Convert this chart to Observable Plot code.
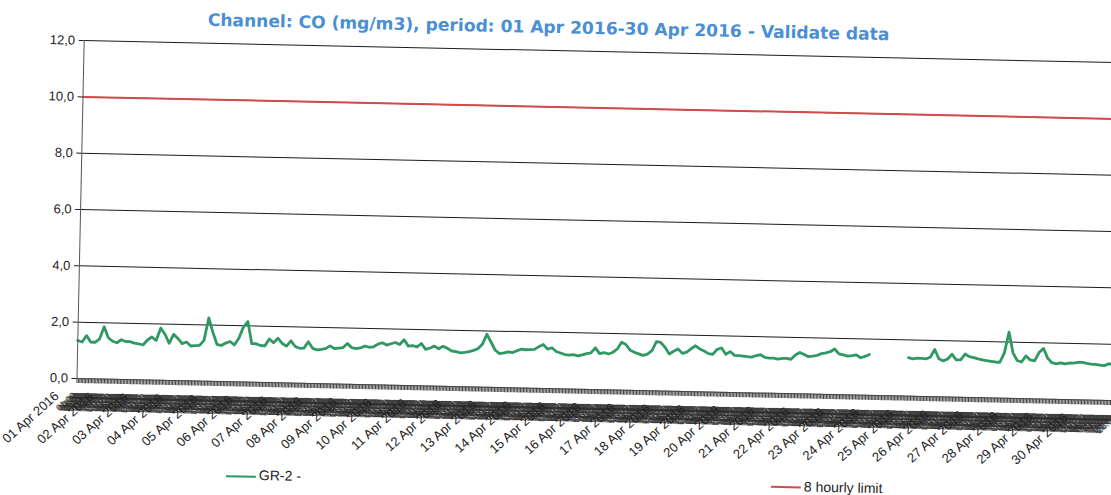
<!DOCTYPE html>
<html>
<head>
<meta charset="utf-8">
<script src="https://cdn.jsdelivr.net/npm/d3@7"></script>
<script src="https://cdn.jsdelivr.net/npm/@observablehq/plot@0.6"></script>
<style>
html, body { margin: 0; padding: 0; background: #fff; width: 1111px; height: 495px; overflow: hidden; }
#wrap { position: absolute; left: 0; top: 0; width: 1136px; height: 495px; transform-origin: 76.5px 378px; transform: rotate(1.22deg); }
#chart { position: absolute; left: 0; top: 0; }
#title { position: absolute; left: 0; width: 1082px; text-align: center; font-family: "DejaVu Sans", Verdana, sans-serif; font-weight: bold; color: #4a8fd3; white-space: nowrap; line-height: 1; }
.leg { position: absolute; font-family: "Liberation Sans", Arial, sans-serif; font-size: 14px; color: #222; line-height: 1; white-space: nowrap; }
.sw { position: absolute; height: 2px; width: 30px; }
</style>
</head>
<body>
<div id="wrap">
  <div id="chart"></div>
  <div id="title"><span id="titleText">Channel: CO (mg/m3), period: 01 Apr 2016-30 Apr 2016 - Validate data</span></div>
  <div class="sw" style="left:228px; top:472px; background:#2f9863;"></div>
  <div class="leg" id="leg1" style="left:261px;">GR-2 -</div>
  <div class="sw" style="left:773px; top:471px; background:#d24b4b;"></div>
  <div class="leg" id="leg2" style="left:806px;">8 hourly limit</div>
</div>
<script>
// ---- data ----
const dayLabels = ["01 Apr 2016","02 Apr 2016","03 Apr 2016","04 Apr 2016","05 Apr 2016","06 Apr 2016",
  "07 Apr 2016","08 Apr 2016","09 Apr 2016","10 Apr 2016","11 Apr 2016","12 Apr 2016","13 Apr 2016",
  "14 Apr 2016","15 Apr 2016","16 Apr 2016","17 Apr 2016","18 Apr 2016","19 Apr 2016","20 Apr 2016",
  "21 Apr 2016","22 Apr 2016","23 Apr 2016","24 Apr 2016","25 Apr 2016","26 Apr 2016","27 Apr 2016",
  "28 Apr 2016","29 Apr 2016","30 Apr 2016"];
const hourLabels = ["00:00","01:00","02:00","03:00","04:00","05:00","06:00","07:00","08:00","09:00","10:00","11:00",
  "12:00","13:00","14:00","15:00","16:00","17:00","18:00","19:00","20:00","21:00","22:00","23:00"];
const sampleHours = [0, 3, 6, 9, 12, 15, 18, 21];
// CO (mg/m3), GR-2, one row per day, values at sampleHours
const coGR2 = [
  [1.35,1.30,1.53,1.30,1.30,1.42,1.86,1.47],
  [1.35,1.30,1.41,1.35,1.35,1.30,1.28,1.24],
  [1.42,1.53,1.41,1.85,1.64,1.32,1.64,1.50],
  [1.32,1.38,1.24,1.26,1.27,1.45,2.25,1.75],
  [1.32,1.28,1.37,1.43,1.31,1.55,1.95,2.15],
  [1.37,1.37,1.31,1.30,1.55,1.42,1.58,1.40],
  [1.31,1.50,1.30,1.24,1.25,1.48,1.25,1.20],
  [1.22,1.25,1.35,1.26,1.28,1.30,1.45,1.30],
  [1.27,1.30,1.37,1.33,1.35,1.45,1.50,1.42],
  [1.47,1.52,1.45,1.62,1.40,1.42,1.38,1.50],
  [1.30,1.35,1.42,1.33,1.42,1.35,1.26,1.24],
  [1.20,1.22,1.25,1.30,1.36,1.52,1.88,1.60],
  [1.32,1.20,1.23,1.27,1.25,1.32,1.38,1.36],
  [1.37,1.38,1.48,1.56,1.40,1.45,1.32,1.27],
  [1.22,1.20,1.22,1.18,1.22,1.27,1.30,1.48],
  [1.28,1.32,1.27,1.33,1.45,1.70,1.62,1.42],
  [1.35,1.30,1.25,1.30,1.42,1.75,1.72,1.55],
  [1.32,1.42,1.50,1.35,1.40,1.52,1.63,1.52],
  [1.45,1.36,1.34,1.52,1.57,1.35,1.45,1.32],
  [1.31,1.30,1.28,1.27,1.33,1.36,1.27,1.25],
  [1.25,1.22,1.25,1.25,1.22,1.38,1.47,1.40],
  [1.33,1.35,1.38,1.45,1.48,1.52,1.62,1.45],
  [1.42,1.38,1.40,1.43,1.33,1.38,1.45,null],
  [null,null,null,null,null,null,null,1.37],
  [1.33,1.36,1.35,1.34,1.40,1.68,1.35,1.28],
  [1.35,1.52,1.33,1.33,1.54,1.45,1.42,1.38],
  [1.35,1.32,1.30,1.28,1.27,1.60,2.35,1.62],
  [1.35,1.30,1.52,1.38,1.35,1.65,1.80,1.45],
  [1.30,1.26,1.30,1.27,1.30,1.30,1.33,1.33],
  [1.30,1.28,1.27,1.25,1.23,1.30,1.28,1.30]
];
const limit8h = 10;
const yTicks = [0, 2, 4, 6, 8, 10, 12];

// ---- build tables ----
const series = coGR2.flatMap((row, d) => row.map((v, k) => ({h: d * 24 + sampleHours[k], v})));
const hourIndex = d3.range(dayLabels.length * 24);
const dailyTicks = hourIndex.filter(h => h % 24 === 0).map(h => ({h, label: dayLabels[h / 24]}));
const hourlyTicks = hourIndex.filter(h => h % 24 !== 0).map(h => ({h, label: hourLabels[h % 24]}));

const chart = Plot.plot({
  width: 1136,
  height: 495,
  marginLeft: 76.5,
  marginRight: 15.5,
  marginTop: 40,
  marginBottom: 117,
  style: {fontFamily: "'Liberation Sans', Arial, sans-serif", background: "transparent", overflow: "visible"},
  x: {domain: [0, 720]},
  y: {domain: [0, 12]},
  marks: [
    Plot.ruleY(yTicks.filter(d => d > 0), {stroke: "#1c1c1c", strokeWidth: 1}),
    Plot.ruleY([limit8h], {stroke: "#d24b4b", strokeWidth: 2}),
    Plot.line(series, {x: "h", y: "v", stroke: "#2f9863", strokeWidth: 2.8, strokeLinejoin: "round"}),
    Plot.ruleX([0], {stroke: "#555", strokeWidth: 1}),
    Plot.ruleY([0], {stroke: "#444", strokeWidth: 1}),
    Plot.axisY({ticks: yTicks, tickSize: 5, tickPadding: 4, fontSize: 13, color: "#222", label: null,
      tickFormat: d => d.toFixed(1).replace(".", ",")}),
    Plot.axisX({ticks: hourIndex, tickSize: 5, color: "#444", label: null, tickFormat: () => ""}),
    Plot.text(hourlyTicks, {x: "h", text: "label", frameAnchor: "bottom", rotate: -43,
      textAnchor: "end", lineAnchor: "bottom", dx: -2, dy: 18, fontSize: 9, fill: "#2e2e2e"}),
    Plot.text(dailyTicks, {x: "h", text: "label", frameAnchor: "bottom", rotate: -43,
      textAnchor: "end", lineAnchor: "bottom", dx: -17, dy: 19, fontSize: 13, fill: "#222"})
  ]
});
document.getElementById("chart").appendChild(chart);

// fit title to the reference width
const tt = document.getElementById("titleText");
const title = document.getElementById("title");
let fs = 16;
title.style.fontSize = fs + "px";
fs = fs * 682 / tt.offsetWidth;
title.style.fontSize = fs + "px";
title.style.top = (23.4 - 0.846 * fs) + "px";
// legend text baseline
for (const id of ["leg1", "leg2"]) {
  document.getElementById(id).style.top = (475.5 - 0.846 * 14) + "px";
}
</script>
</body>
</html>
